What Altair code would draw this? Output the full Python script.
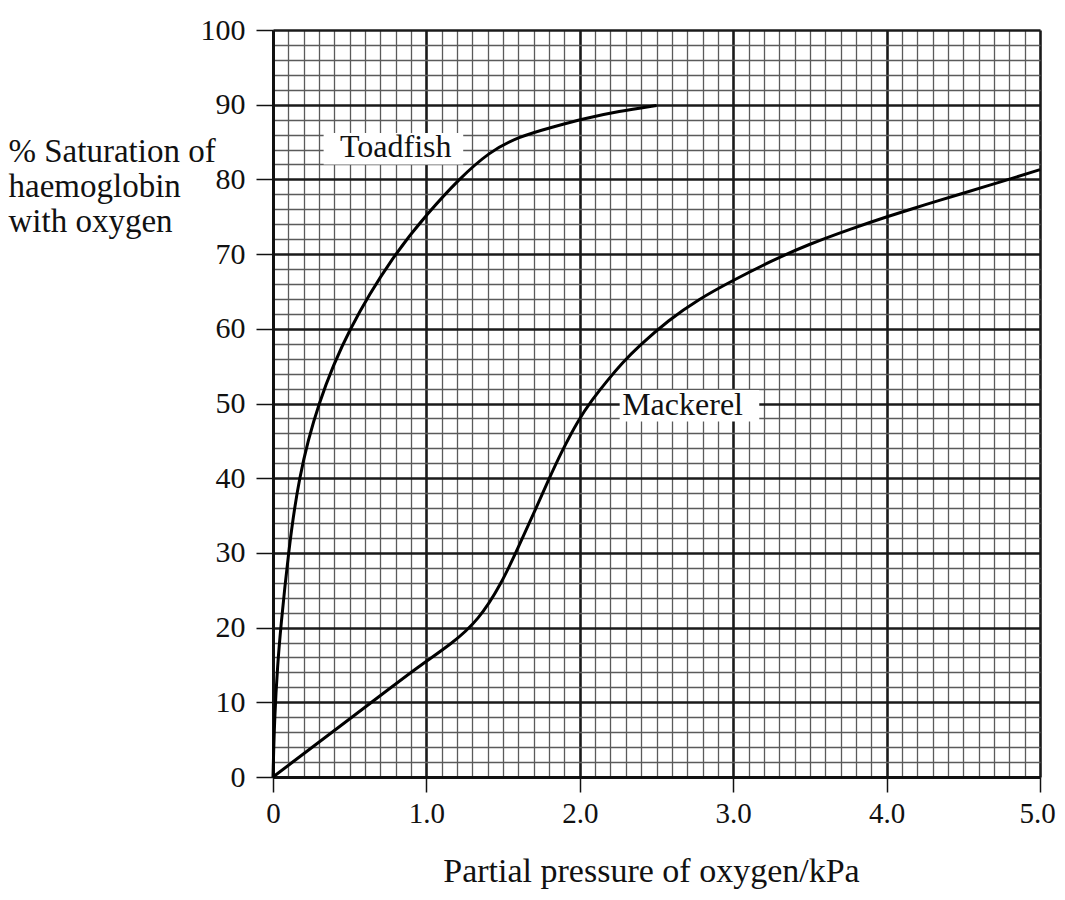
import altair as alt
import pandas as pd

# Toadfish curve (partial pressure kPa, % saturation)
toad_x = [0.0, 0.01, 0.03, 0.05, 0.10, 0.165, 0.29, 0.49, 0.79, 1.01, 1.21, 1.41, 1.60, 1.82, 2.04, 2.25, 2.50]
toad_y = [0.0, 8.0, 15.0, 20.0, 30.0, 40.0, 50.0, 60.0, 70.0, 75.5, 80.0, 83.7, 85.7, 87.0, 88.2, 89.1, 89.9]

# Mackerel curve
mack_x = [0.0, 0.72, 0.95, 1.17, 1.34, 1.49, 1.60, 1.70, 1.79, 1.88, 1.99, 2.08, 2.18, 2.28, 2.38, 2.58, 2.77,
          2.99, 3.25, 3.49, 3.77, 4.00, 4.25, 4.49, 4.75, 5.00]
mack_y = [0.0, 11.2, 14.8, 17.9, 21.0, 25.9, 30.8, 35.3, 39.5, 43.5, 47.8, 50.5, 53.1, 55.5, 57.6, 61.2, 63.9,
          66.4, 69.1, 71.3, 73.4, 75.0, 76.6, 78.1, 79.7, 81.3]

# Curve labels
label_text = ["Toadfish", "Mackerel"]
label_x = [0.80, 2.67]
label_y = [83.0, 48.5]
box_x1 = [0.33, 2.26]
box_x2 = [1.24, 3.17]
box_y1 = [82.0, 47.6]
box_y2 = [86.2, 51.8]

# Grid / tick positions
x_grid = [round(i * 0.1, 1) for i in range(51)]
y_grid = [i * 2 for i in range(51)]

FONT = "Liberation Serif"

curves = pd.DataFrame(
    [{"pp": x, "sat": y, "fish": "Toadfish"} for x, y in zip(toad_x, toad_y)]
    + [{"pp": x, "sat": y, "fish": "Mackerel"} for x, y in zip(mack_x, mack_y)]
)
labels = pd.DataFrame({"text": label_text, "x": label_x, "y": label_y,
                       "x1": box_x1, "x2": box_x2, "y1": box_y1, "y2": box_y2})

major_x = "abs(datum.value - round(datum.value)) < 0.001"
major_y = "datum.value % 10 === 0"

x_scale = alt.Scale(domain=[0, 5], nice=False, zero=False)
y_scale = alt.Scale(domain=[0, 100], nice=False, zero=False)

x_axis = alt.Axis(
    values=x_grid, tickCount=500,
    title="Partial pressure of oxygen/kPa",
    titleFont=FONT, titleFontSize=34, titleFontWeight="normal", titleColor="#111",
    titleX=378, titleY=104, titleBaseline="alphabetic",
    labelExpr=f"{major_x} ? (datum.value === 0 ? '0' : format(datum.value, '.1f')) : ''",
    labelFont=FONT, labelFontSize=29, labelColor="#111", labelPadding=7,
    labelOffset={"condition": {"test": "datum.value > 4.95", "value": -3}, "value": 0},
    labelOverlap=False, labelBound=False, labelFlush=False,
    tickSize=15, tickColor="#111", tickWidth=1.5,
    tickOpacity={"condition": {"test": major_x, "value": 1}, "value": 0},
    domainColor="#111", domainWidth=3,
    grid=True,
    gridColor={"condition": {"test": major_x, "value": "#1a1a1a"}, "value": "#5a5a5a"},
    gridWidth={"condition": {"test": major_x, "value": 2.6}, "value": 1.3},
)

y_axis = alt.Axis(
    values=y_grid, tickCount=500,
    title=["% Saturation of", "haemoglobin", "with oxygen"],
    titleFont=FONT, titleFontSize=33, titleFontWeight="normal", titleColor="#111",
    titleAngle=0, titleAlign="left", titleBaseline="alphabetic",
    titleX=-265, titleY=131, titleLineHeight=35,
    labelExpr=f"{major_y} ? format(datum.value, 'd') : ''",
    labelFont=FONT, labelFontSize=30, labelColor="#111", labelPadding=11,
    labelOverlap=False, labelBound=False, labelFlush=False,
    tickSize=17, tickColor="#111", tickWidth=1.5,
    tickOpacity={"condition": {"test": major_y, "value": 1}, "value": 0},
    domainColor="#111", domainWidth=3,
    grid=True,
    gridColor={"condition": {"test": major_y, "value": "#1a1a1a"}, "value": "#5a5a5a"},
    gridWidth={"condition": {"test": major_y, "value": 2.4}, "value": 1.3},
)

lines = alt.Chart(curves).mark_line(color="#000", strokeWidth=3, interpolate="basis").encode(
    x=alt.X("pp:Q", scale=x_scale, axis=x_axis),
    y=alt.Y("sat:Q", scale=y_scale, axis=y_axis),
    detail="fish:N",
)

boxes = alt.Chart(labels).mark_rect(fill="white").encode(
    x=alt.X("x1:Q", scale=x_scale), x2="x2:Q",
    y=alt.Y("y1:Q", scale=y_scale), y2="y2:Q",
)

texts = alt.Chart(labels).mark_text(font=FONT, fontSize=32, color="#111", baseline="alphabetic", align="center").encode(
    x=alt.X("x:Q", scale=x_scale),
    y=alt.Y("y:Q", scale=y_scale),
    text="text:N",
)

chart = alt.layer(lines, boxes, texts).properties(
    width=767, height=747,
    autosize=alt.AutoSizeParams(type="none"),
    padding={"left": 265, "top": 22, "right": 17, "bottom": 118},
).configure_view(stroke=None).configure(background="white")

chart.save("out.html", embed_options={"renderer": "svg", "actions": False})
